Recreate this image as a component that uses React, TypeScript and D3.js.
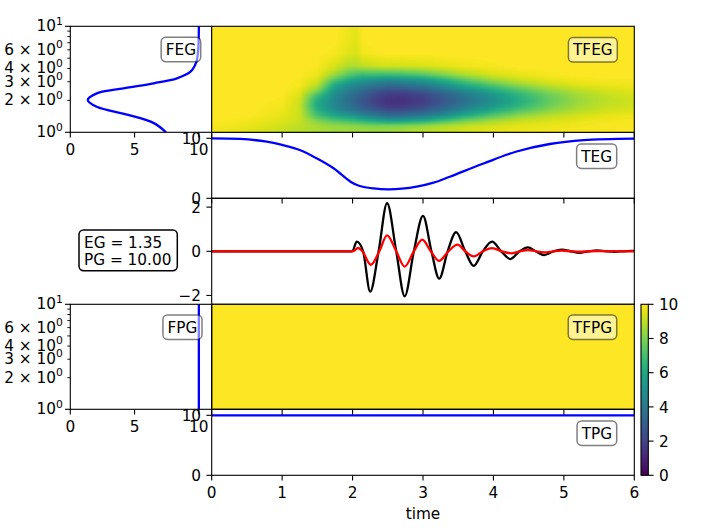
import React, { useMemo } from 'react';
import * as d3 from 'd3';

// ---------------- data ----------------
const timeTicks = [0, 1, 2, 3, 4, 5, 6];
const misfitTicks = [0, 5, 10];
const goodnessTicks = [0, 10];
const signalTicks = [-2, 0, 2];
const colorbarTicks = [0, 2, 4, 6, 8, 10];
const logMinorTicks = [2, 3, 4, 5, 6, 7, 8, 9];
const logMajorTicks = [1, 10];
const logLabelValues = [1, 2, 3, 4, 6, 10];
const logLabelMantissas = ['', '2', '3', '4', '6', ''];
const logLabelExponents = ['0', '0', '0', '0', '0', '1'];

const envelopeGoF = '1.35';
const phaseGoF = '10.00';

// frequency envelope goodness of fit
const fegFreqs = [1, 1.22, 1.46, 1.74, 2.02, 2.33, 2.6, 2.9, 3.23, 3.73, 4.6, 6, 10];
const fegValues = [7.45, 6.5, 4.5, 2.06, 1.36, 2.06, 4.14, 6.5, 8.3, 9.35, 9.8, 9.95, 10.0];

// time envelope goodness of fit
const tegTimes = [0, 0.4, 0.78, 1.0, 1.25, 1.49, 1.73, 1.97, 2.1, 2.3, 2.5, 2.7, 2.91, 3.15, 3.38, 3.86, 4.33, 4.8, 5.28, 6];
const tegValues = [10, 9.9, 9.45, 8.9, 8.05, 6.67, 5.0, 2.77, 2.05, 1.65, 1.5, 1.6, 1.93, 2.6, 3.6, 5.8, 7.8, 9.05, 9.7, 9.95];

// phase goodness of fit (constant)
const fpgFreqs = [1, 10];
const fpgValues = [10, 10];
const tpgTimes = [0, 6];
const tpgValues = [10, 10];

// signals
const observedTimes = [0, 1.98, 2.0, 2.06, 2.15, 2.25, 2.37, 2.49, 2.62, 2.74, 2.87, 3.0, 3.12, 3.23, 3.35, 3.47, 3.6, 3.72, 3.85, 3.98, 4.11, 4.24, 4.37, 4.49, 4.6, 4.72, 4.85, 4.97, 5.1, 5.22, 5.35, 5.47, 5.6, 5.72, 5.85, 5.97, 6.0];
const observedValues = [0, 0, 0.02, 0.44, 0, -1.83, 0, 2.18, 0, -2.04, 0, 1.6, 0, -1.24, 0, 0.87, 0, -0.66, 0, 0.44, 0, -0.35, 0, 0.18, 0, -0.17, 0, 0.07, 0, -0.07, 0, 0.04, 0, -0.02, 0, 0.02, 0.02];
const syntheticTimes = [0, 1.99, 2.01, 2.08, 2.14, 2.26, 2.38, 2.49, 2.62, 2.74, 2.87, 2.99, 3.11, 3.23, 3.36, 3.49, 3.6, 3.72, 3.85, 3.98, 4.12, 4.26, 4.38, 4.49, 4.6, 4.72, 4.85, 4.97, 5.1, 5.22, 5.35, 5.47, 6.0];
const syntheticValues = [0, 0, 0.01, 0.15, 0, -0.61, 0, 0.72, 0, -0.69, 0, 0.53, 0, -0.43, 0, 0.3, 0, -0.23, 0, 0.14, 0, -0.09, 0, 0.06, 0, -0.05, 0, 0.03, 0, -0.02, 0, 0.01, 0];

// time-frequency envelope goodness of fit grid (rows: ascending frequency)
const tfTimes = [0, 0.5, 1.0, 1.25, 1.5, 1.75, 1.95, 2.05, 2.15, 2.3, 2.5, 2.7, 3.0, 3.3, 3.6, 4.0, 4.4, 4.8, 5.2, 5.6, 6.0];
const tfFreqs = [1.0, 1.15, 1.3, 1.45, 1.6, 1.8, 2.0, 2.25, 2.5, 2.8, 3.1, 3.5, 4.2, 5.5, 7.5, 10];
const tfegValues = [
  [9.8, 9.5, 9.1, 8.9, 8.7, 8.6, 8.6, 8.6, 8.6, 8.6, 8.6, 8.8, 9.0, 9.2, 9.4, 9.6, 9.7, 9.8, 9.9, 9.9, 10],
  [9.9, 9.7, 9.3, 9.0, 8.7, 8.4, 8.3, 8.2, 8.1, 8.0, 8.0, 8.1, 8.4, 8.8, 9.1, 9.4, 9.6, 9.7, 9.8, 9.9, 9.9],
  [10, 9.85, 9.5, 9.2, 8.0, 7.2, 6.8, 6.5, 6.2, 5.8, 5.3, 5.4, 5.9, 6.8, 7.7, 8.5, 9.1, 9.4, 9.6, 9.8, 9.9],
  [10, 10, 9.65, 9.2, 7.0, 5.8, 5.3, 4.9, 4.5, 4.1, 3.5, 3.5, 4.0, 4.9, 6.0, 7.3, 8.3, 8.9, 9.3, 9.6, 9.7],
  [10, 10, 9.75, 9.2, 6.5, 4.9, 4.2, 3.8, 3.4, 3.0, 2.4, 2.4, 2.9, 3.8, 4.9, 6.2, 7.4, 8.3, 8.9, 9.3, 9.5],
  [10, 10, 9.85, 9.2, 6.0, 4.6, 3.7, 3.2, 2.8, 2.2, 1.6, 1.6, 2.1, 3.0, 4.0, 5.3, 6.6, 7.8, 8.6, 9.1, 9.3],
  [10, 10, 9.9, 9.3, 6.2, 4.6, 3.6, 3.1, 2.6, 2.0, 1.4, 1.35, 1.8, 2.7, 3.7, 5.0, 6.3, 7.6, 8.5, 9.0, 9.3],
  [10, 10, 9.95, 9.5, 7.0, 4.8, 3.8, 3.3, 2.9, 2.3, 1.7, 1.65, 2.1, 3.0, 4.0, 5.3, 6.6, 7.8, 8.6, 9.1, 9.4],
  [10, 10, 10, 9.7, 8.2, 5.3, 4.3, 3.9, 3.5, 3.0, 2.5, 2.5, 3.0, 3.9, 4.9, 6.2, 7.4, 8.4, 9.0, 9.4, 9.6],
  [10, 10, 10, 9.85, 9.0, 6.0, 5.0, 4.7, 4.4, 4.0, 3.6, 3.7, 4.2, 5.1, 6.2, 7.4, 8.4, 9.1, 9.5, 9.7, 9.8],
  [10, 10, 10, 9.9, 9.4, 7.2, 6.0, 5.6, 5.3, 5.0, 4.7, 4.9, 5.3, 6.3, 7.4, 8.5, 9.2, 9.6, 9.8, 9.9, 9.9],
  [10, 10, 10, 10, 9.7, 8.5, 7.4, 7.1, 6.9, 6.9, 6.9, 7.0, 7.4, 8.1, 8.8, 9.4, 9.7, 9.9, 10, 10, 10],
  [10, 10, 10, 10, 9.9, 9.4, 8.8, 8.8, 9.0, 9.2, 9.3, 9.3, 9.4, 9.6, 9.8, 9.9, 10, 10, 10, 10, 10],
  [10, 10, 10, 10, 10, 9.85, 9.5, 9.4, 9.8, 9.9, 10, 10, 10, 10, 10, 10, 10, 10, 10, 10, 10],
  [10, 10, 10, 10, 10, 10, 9.7, 9.55, 9.95, 10, 10, 10, 10, 10, 10, 10, 10, 10, 10, 10, 10],
  [10, 10, 10, 10, 10, 10, 9.75, 9.6, 10, 10, 10, 10, 10, 10, 10, 10, 10, 10, 10, 10, 10],
];
const tfpgTimes = [0, 6];
const tfpgFreqs = [1, 10];
const tfpgValues = [
  [10, 10],
  [10, 10],
];

// ---------------- layout ----------------
const FONT = 'DejaVu Sans, Verdana, sans-serif';
const FS = 15.3;
const LW = 2.3;
const SPINE = 1.1;
const MAJ = 5.3;
const MIN = 3;

const L0 = 70.3, L1 = 211.7;
const R0 = 211.7, R1 = 634.3;
const ROW1 = [26.3, 132.3];
const ROW2 = [132.3, 198.3];
const ROW3 = [198.3, 304.3];
const ROW4 = [304.3, 409.3];
const ROW5 = [409.3, 475.3];
const CB = { x0: 641, x1: 648.3, y0: 304.3, y1: 475.3 };

const charW: Record<string, number> = { F: 0.575, E: 0.632, G: 0.775, T: 0.611, P: 0.603 };

function renderHeatmap(times: number[], freqs: number[], values: number[][], w: number, h: number): string {
  const canvas = document.createElement('canvas');
  canvas.width = w;
  canvas.height = h;
  const ctx = canvas.getContext('2d');
  if (!ctx) return '';
  const img = ctx.createImageData(w, h);
  const tScale = d3.scaleLinear().domain([0, 6]).range([0, w]);
  const fScale = d3.scaleLog().domain([1, 10]).range([h, 0]);
  const logF = freqs.map((f) => Math.log10(f));
  const nT = times.length, nF = freqs.length;
  const colorCache = new Map<number, d3.RGBColor>();
  for (let py = 0; py < h; py++) {
    const lf = Math.log10(fScale.invert(py + 0.5));
    const ri = Math.min(Math.max(d3.bisectRight(logF, lf) - 1, 0), nF - 2);
    const rf = Math.min(Math.max((lf - logF[ri]) / (logF[ri + 1] - logF[ri]), 0), 1);
    for (let px = 0; px < w; px++) {
      const t = tScale.invert(px + 0.5);
      const ci = Math.min(Math.max(d3.bisectRight(times, t) - 1, 0), nT - 2);
      const cf = Math.min(Math.max((t - times[ci]) / (times[ci + 1] - times[ci]), 0), 1);
      const v00 = values[ri][ci], v01 = values[ri][ci + 1];
      const v10 = values[ri + 1][ci], v11 = values[ri + 1][ci + 1];
      const v = (v00 * (1 - cf) + v01 * cf) * (1 - rf) + (v10 * (1 - cf) + v11 * cf) * rf;
      const key = Math.round(v * 200);
      let c = colorCache.get(key);
      if (!c) {
        c = d3.rgb(d3.interpolateViridis(Math.min(Math.max(key / 2000, 0), 1)));
        colorCache.set(key, c);
      }
      const k = (py * w + px) * 4;
      img.data[k] = c.r;
      img.data[k + 1] = c.g;
      img.data[k + 2] = c.b;
      img.data[k + 3] = 255;
    }
  }
  ctx.putImageData(img, 0, 0);
  return canvas.toDataURL();
}

function LabelBox({ xRight, yTop, text, fillOpacity = 0.5 }: { xRight: number; yTop: number; text: string; fillOpacity?: number }) {
  const tw = text.split('').reduce((s, ch) => s + (charW[ch] || 0.6), 0) * FS;
  const pad = 4.6;
  const w = tw + 2 * pad;
  const h = 24.4;
  return (
    <g>
      <rect x={xRight - w} y={yTop} width={w} height={h} rx={4.6} ry={4.6}
        fill="#ffffff" fillOpacity={fillOpacity} stroke="#000" strokeOpacity={0.5} strokeWidth={1.5} />
      <text x={xRight - w / 2} y={yTop + h / 2 + 5.6} textAnchor="middle" fontSize={FS}>{text}</text>
    </g>
  );
}

function Spine({ x0, x1, y0, y1 }: { x0: number; x1: number; y0: number; y1: number }) {
  return <rect x={x0} y={y0} width={x1 - x0} height={y1 - y0} fill="none" stroke="#000" strokeWidth={SPINE} />;
}

function LogYAxis({ scale, x }: { scale: d3.ScaleLogarithmic<number, number>; x: number }) {
  return (
    <g>
      {logMajorTicks.map((v) => (
        <line key={'M' + v} x1={x - MAJ} x2={x} y1={scale(v)} y2={scale(v)} stroke="#000" strokeWidth={SPINE} />
      ))}
      {logMinorTicks.map((v) => (
        <line key={'m' + v} x1={x - MIN} x2={x} y1={scale(v)} y2={scale(v)} stroke="#000" strokeWidth={0.9} />
      ))}
      {logLabelValues.map((v, i) => (
        <text key={'l' + v} x={x - 7.5} y={scale(v) + 5.0} textAnchor="end" fontSize={FS}>
          {logLabelMantissas[i] ? logLabelMantissas[i] + ' \u00d7 10' : '10'}
          <tspan dy={-6.8} fontSize={10.7}>{logLabelExponents[i]}</tspan>
        </text>
      ))}
    </g>
  );
}

function BottomTicks({ scale, ticks, y, labels }: { scale: d3.ScaleLinear<number, number>; ticks: number[]; y: number; labels: boolean }) {
  return (
    <g>
      {ticks.map((v) => (
        <g key={v}>
          <line x1={scale(v)} x2={scale(v)} y1={y} y2={y + MAJ} stroke="#000" strokeWidth={SPINE} />
          {labels && (
            <text x={scale(v)} y={y + 22.4} textAnchor="middle" fontSize={FS}>{String(v)}</text>
          )}
        </g>
      ))}
    </g>
  );
}

function LeftTicks({ scale, ticks, x, fmt }: { scale: d3.ScaleLinear<number, number>; ticks: number[]; x: number; fmt?: (v: number) => string }) {
  return (
    <g>
      {ticks.map((v) => (
        <g key={v}>
          <line x1={x - MAJ} x2={x} y1={scale(v)} y2={scale(v)} stroke="#000" strokeWidth={SPINE} />
          <text x={x - 10.6} y={scale(v) + 5.6} textAnchor="end" fontSize={FS}>{fmt ? fmt(v) : String(v)}</text>
        </g>
      ))}
    </g>
  );
}

export default function App() {
  const xT = d3.scaleLinear().domain([0, 6]).range([R0, R1]);
  const xMis = d3.scaleLinear().domain([0, 11]).range([L0, L1]);
  const yFreqTop = d3.scaleLog().domain([1, 10]).range([ROW1[1], ROW1[0]]);
  const yFreqBot = d3.scaleLog().domain([1, 10]).range([ROW4[1], ROW4[0]]);
  const yTEG = d3.scaleLinear().domain([0, 11]).range([ROW2[1], ROW2[0]]);
  const ySig = d3.scaleLinear().domain([-2.4, 2.4]).range([ROW3[1], ROW3[0]]);
  const yTPG = d3.scaleLinear().domain([0, 11]).range([ROW5[1], ROW5[0]]);
  const yCb = d3.scaleLinear().domain([0, 10]).range([CB.y1, CB.y0]);

  const wTF = Math.round(R1 - R0);
  const hTF1 = Math.round(ROW1[1] - ROW1[0]);
  const hTF2 = Math.round(ROW4[1] - ROW4[0]);

  const tfegImg = useMemo(() => renderHeatmap(tfTimes, tfFreqs, tfegValues, wTF, hTF1), []);
  const tfpgImg = useMemo(() => renderHeatmap(tfpgTimes, tfpgFreqs, tfpgValues, wTF, hTF2), []);

  const fegIdx = d3.range(fegFreqs.length).reverse();
  const fegLine = d3.line<number>().x((i) => xMis(fegValues[i])).y((i) => yFreqTop(fegFreqs[i])).curve(d3.curveCatmullRom.alpha(0.5));
  const fpgLine = d3.line<number>().x((i) => xMis(fpgValues[i])).y((i) => yFreqBot(fpgFreqs[i]));
  const tegLine = d3.line<number>().x((i) => xT(tegTimes[i])).y((i) => yTEG(tegValues[i])).curve(d3.curveCatmullRom.alpha(0.5));
  const tpgLine = d3.line<number>().x((i) => xT(tpgTimes[i])).y((i) => yTPG(tpgValues[i]));
  const obsLine = d3.line<number>().x((i) => xT(observedTimes[i])).y((i) => ySig(observedValues[i])).curve(d3.curveMonotoneX);
  const synLine = d3.line<number>().x((i) => xT(syntheticTimes[i])).y((i) => ySig(syntheticValues[i])).curve(d3.curveMonotoneX);

  const minus = (v: number) => (v < 0 ? '\u2212' + Math.abs(v) : String(v));

  return (
    <svg width={704} height={528} style={{ position: 'absolute', left: 0, top: 0 }} fontFamily={FONT} fill="#000">
      <defs>
        <clipPath id="cFEG"><rect x={L0} y={ROW1[0]} width={L1 - L0} height={ROW1[1] - ROW1[0]} /></clipPath>
        <clipPath id="cFPG"><rect x={L0} y={ROW4[0]} width={L1 - L0} height={ROW4[1] - ROW4[0]} /></clipPath>
        <clipPath id="cTEG"><rect x={R0} y={ROW2[0]} width={R1 - R0} height={ROW2[1] - ROW2[0]} /></clipPath>
        <clipPath id="cSIG"><rect x={R0} y={ROW3[0]} width={R1 - R0} height={ROW3[1] - ROW3[0]} /></clipPath>
        <clipPath id="cTPG"><rect x={R0} y={ROW5[0]} width={R1 - R0} height={ROW5[1] - ROW5[0]} /></clipPath>
        <linearGradient id="viridisGrad" x1="0" y1="1" x2="0" y2="0">
          {d3.range(0, 1.0001, 0.05).map((s) => (
            <stop key={s} offset={s} stopColor={d3.interpolateViridis(s)} />
          ))}
        </linearGradient>
      </defs>
      <rect x={0} y={0} width={704} height={528} fill="#fff" />

      {/* FEG */}
      <path d={fegLine(fegIdx) || ''} fill="none" stroke="#0000ff" strokeWidth={LW} clipPath="url(#cFEG)" />
      <Spine x0={L0} x1={L1} y0={ROW1[0]} y1={ROW1[1]} />
      <LogYAxis scale={yFreqTop} x={L0} />
      <BottomTicks scale={xMis} ticks={misfitTicks} y={ROW1[1]} labels={true} />
      <LabelBox xRight={200.7} yTop={37.3} text="FEG" />

      {/* TEG */}
      <path d={tegLine(d3.range(tegTimes.length)) || ''} fill="none" stroke="#0000ff" strokeWidth={LW} clipPath="url(#cTEG)" />
      <Spine x0={R0} x1={R1} y0={ROW2[0]} y1={ROW2[1]} />
      <LeftTicks scale={yTEG} ticks={goodnessTicks} x={R0} />
      <BottomTicks scale={xT} ticks={timeTicks} y={ROW2[1]} labels={false} />
      <LabelBox xRight={616.7} yTop={144} text="TEG" />

      {/* TFEG */}
      <image href={tfegImg} x={R0} y={ROW1[0]} width={R1 - R0} height={ROW1[1] - ROW1[0]} preserveAspectRatio="none" />
      <Spine x0={R0} x1={R1} y0={ROW1[0]} y1={ROW1[1]} />
      <BottomTicks scale={xT} ticks={timeTicks} y={ROW1[1]} labels={false} />
      <LabelBox xRight={617.3} yTop={37.6} text="TFEG" />

      {/* signals */}
      <path d={obsLine(d3.range(observedTimes.length)) || ''} fill="none" stroke="#000" strokeWidth={LW} clipPath="url(#cSIG)" />
      <path d={synLine(d3.range(syntheticTimes.length)) || ''} fill="none" stroke="#ff0000" strokeWidth={LW} clipPath="url(#cSIG)" />
      <Spine x0={R0} x1={R1} y0={ROW3[0]} y1={ROW3[1]} />
      <LeftTicks scale={ySig} ticks={signalTicks} x={R0} fmt={minus} />
      <g>
        <rect x={79} y={230} width={98.3} height={40.7} rx={4.6} ry={4.6} fill="#fff" stroke="#000" strokeWidth={1.5} />
        <text x={84} y={248.3} fontSize={FS}>{'EG = ' + envelopeGoF}</text>
        <text x={84} y={265} fontSize={FS}>{'PG = ' + phaseGoF}</text>
      </g>

      {/* TFPG */}
      <image href={tfpgImg} x={R0} y={ROW4[0]} width={R1 - R0} height={ROW4[1] - ROW4[0]} preserveAspectRatio="none" />
      <Spine x0={R0} x1={R1} y0={ROW4[0]} y1={ROW4[1]} />

      {/* TPG */}
      <path d={tpgLine(d3.range(tpgTimes.length)) || ''} fill="none" stroke="#0000ff" strokeWidth={LW} clipPath="url(#cTPG)" />
      <Spine x0={R0} x1={R1} y0={ROW5[0]} y1={ROW5[1]} />
      <LeftTicks scale={yTPG} ticks={goodnessTicks} x={R0} />
      <BottomTicks scale={xT} ticks={timeTicks} y={ROW5[1]} labels={true} />
      <text x={(R0 + R1) / 2} y={518.5} textAnchor="middle" fontSize={FS}>time</text>
      <BottomTicks scale={xT} ticks={timeTicks} y={ROW4[1]} labels={false} />
      <LabelBox xRight={616.7} yTop={421} text="TPG" />
      <LabelBox xRight={616.7} yTop={315} text="TFPG" />

      {/* FPG */}
      <path d={fpgLine(d3.range(fpgFreqs.length)) || ''} fill="none" stroke="#0000ff" strokeWidth={LW} clipPath="url(#cFPG)" />
      <Spine x0={L0} x1={L1} y0={ROW4[0]} y1={ROW4[1]} />
      <LogYAxis scale={yFreqBot} x={L0} />
      <BottomTicks scale={xMis} ticks={misfitTicks} y={ROW4[1]} labels={true} />
      <LabelBox xRight={202} yTop={315} text="FPG" />

      {/* colorbar */}
      <rect x={CB.x0} y={CB.y0} width={CB.x1 - CB.x0} height={CB.y1 - CB.y0} fill="url(#viridisGrad)" stroke="#000" strokeWidth={SPINE} />
      {colorbarTicks.map((v) => (
        <g key={v}>
          <line x1={CB.x1} x2={CB.x1 + MAJ} y1={yCb(v)} y2={yCb(v)} stroke="#000" strokeWidth={SPINE} />
          <text x={CB.x1 + 10.6} y={yCb(v) + 5.6} fontSize={FS}>{String(v)}</text>
        </g>
      ))}
    </svg>
  );
}
